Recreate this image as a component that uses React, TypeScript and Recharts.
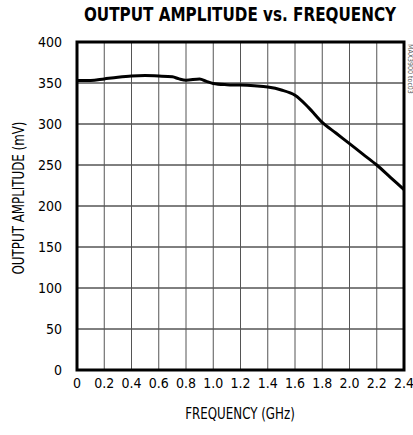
import { LineChart, Line, XAxis, YAxis, CartesianGrid, ReferenceArea } from "recharts";

const freqGHz = [0, 0.1, 0.2, 0.3, 0.4, 0.5, 0.6, 0.7, 0.75, 0.8, 0.9, 0.95, 1.0, 1.1, 1.2, 1.3, 1.4, 1.5, 1.6, 1.7, 1.8, 1.9, 2.0, 2.1, 2.2, 2.3, 2.4];
const amplitudeMv = [353, 353, 355, 357, 358.5, 359, 358.5, 357.5, 355, 353.5, 355, 352, 349.5, 348, 347.5, 346.5, 345, 341.5, 335, 320, 302, 289, 276, 263, 250, 235, 220];
const xTicks = [0, 0.2, 0.4, 0.6, 0.8, 1.0, 1.2, 1.4, 1.6, 1.8, 2.0, 2.2, 2.4];
const yTicks = [0, 50, 100, 150, 200, 250, 300, 350, 400];

const data = freqGHz.map((f, i) => ({ f, v: amplitudeMv[i] }));

const FONT = "'DejaVu Sans Condensed', 'Liberation Sans Narrow', 'DejaVu Sans', sans-serif";
const tickStyle = { fontSize: 14, fill: "#000", fontFamily: FONT, fontStretch: "condensed" };

export default function App() {
  return (
    <div style={{ position: "absolute", left: 0, top: 0, width: 413, height: 435, background: "#fff" }}>
      <LineChart width={413} height={435} data={data} margin={{ top: 42, right: 9, left: 0, bottom: 0 }}>
        <CartesianGrid vertical={false} stroke="#000" strokeWidth={1} />
        <CartesianGrid horizontal={false} stroke="#555" strokeWidth={1} />
        <XAxis
          dataKey="f"
          type="number"
          domain={[0, 2.4]}
          ticks={xTicks}
          tickFormatter={(t: number) => (t === 0 ? "0" : t.toFixed(1))}
          axisLine={false}
          tickLine={false}
          tickSize={0}
          tickMargin={8}
          height={65}
          tick={tickStyle}
          interval={0}
          label={{
            content: () => (
              <text
                transform="translate(240 419) scale(0.88 1)"
                textAnchor="middle"
                style={{ fontSize: 15, fill: "#000", fontFamily: FONT, fontStretch: "condensed" }}
              >
                FREQUENCY (GHz)
              </text>
            ),
          }}
        />
        <YAxis
          type="number"
          domain={[0, 400]}
          ticks={yTicks}
          axisLine={false}
          tickLine={false}
          tickSize={0}
          tickMargin={15}
          width={77}
          tick={tickStyle}
          interval={0}
          label={{
            content: () => (
              <text
                transform="translate(24 198) rotate(-90) scale(0.88 1)"
                textAnchor="middle"
                style={{ fontSize: 15, fill: "#000", fontFamily: FONT, fontStretch: "condensed" }}
              >
                OUTPUT AMPLITUDE (mV)
              </text>
            ),
          }}
        />
        <ReferenceArea x1={0} x2={2.4} y1={0} y2={400} fill="none" stroke="#000" strokeWidth={3} ifOverflow="visible" />
        <Line dataKey="v" type="monotone" stroke="#000" strokeWidth={3} dot={false} isAnimationActive={false} />
      </LineChart>
      <svg width={413} height={40} style={{ position: "absolute", left: 0, top: 0 }}>
        <text
          transform="translate(240 21) scale(0.89 1)"
          textAnchor="middle"
          style={{ fontSize: 19, fontWeight: 700, fill: "#000", fontFamily: FONT, fontStretch: "condensed" }}
        >
          OUTPUT AMPLITUDE vs. FREQUENCY
        </text>
      </svg>
      <svg width={12} height={80} style={{ position: "absolute", left: 404, top: 40 }}>
        <text
          x={4}
          y={4}
          transform="rotate(90 4 4)"
          style={{ fontSize: 7, fill: "#555", fontFamily: FONT, fontStretch: "condensed" }}
        >
          MAX3900 toc03
        </text>
      </svg>
    </div>
  );
}
